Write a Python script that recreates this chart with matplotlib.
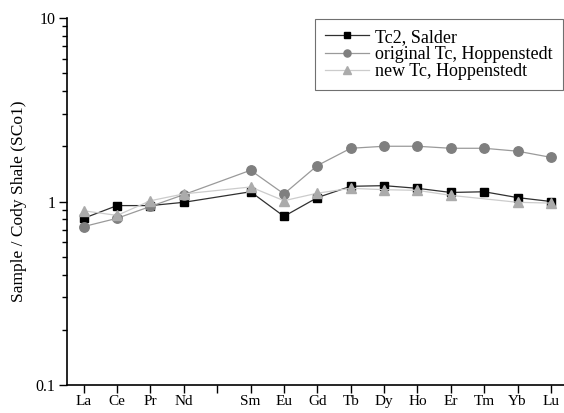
import numpy as np
import matplotlib.pyplot as plt
from matplotlib.ticker import LogLocator, FixedLocator, FuncFormatter, NullFormatter

plt.rcParams['font.family'] = ['Liberation Serif', 'DejaVu Serif']

elements = ["La", "Ce", "Pr", "Nd", "", "Sm", "Eu", "Gd", "Tb", "Dy", "Ho", "Er", "Tm", "Yb", "Lu"]
tc2_salder = [0.81, 0.95, 0.95, 0.99, np.nan, 1.13, 0.83, 1.05, 1.21, 1.22, 1.18, 1.12, 1.13, 1.05, 1.00]
orig_tc = [0.73, 0.81, 0.94, 1.09, np.nan, 1.48, 1.10, 1.57, 1.95, 2.00, 2.00, 1.95, 1.95, 1.88, 1.74]
new_tc = [0.89, 0.84, 1.01, 1.10, np.nan, 1.20, 1.01, 1.11, 1.18, 1.16, 1.15, 1.08, np.nan, 0.99, 0.98]

x = np.arange(1, len(elements) + 1)

fig = plt.figure(figsize=(5.64, 4.13), dpi=100)
ax = fig.add_axes([0.1188, 0.0678, 0.8812, 0.8886])

def draw(vals, **kw):
    v = np.array(vals)
    m = ~np.isnan(v)
    ax.plot(x[m], v[m], **kw)

draw(tc2_salder, color="#303030", lw=0.9, marker="s", ms=5.5, mfc="black", mec="black",
     label="Tc2, Salder", zorder=3)
draw(orig_tc, color="#9a9a9a", lw=0.9, marker="o", ms=6.8, mfc="#7f7f7f", mec="#7f7f7f",
     label="original Tc, Hoppenstedt", zorder=4)
draw(new_tc, color="#cccccc", lw=0.9, marker="^", ms=7, mfc="#ababab", mec="#ababab",
     label="new Tc, Hoppenstedt", zorder=5)

ax.set_yscale("log")
ax.set_ylim(0.1, 10)
ax.set_xlim(0.5, 15.39)
ax.yaxis.set_major_locator(FixedLocator([0.1, 1, 10]))
ax.yaxis.set_major_formatter(FuncFormatter(lambda v, p: "%g" % v))
ax.yaxis.set_minor_locator(LogLocator(base=10, subs=np.arange(2, 10)))
ax.yaxis.set_minor_formatter(NullFormatter())
ax.set_xticks(x)
ax.set_xticklabels(elements)

ax.spines["top"].set_visible(False)
ax.spines["right"].set_visible(False)
ax.spines["left"].set_linewidth(1.2)
ax.spines["bottom"].set_linewidth(1.2)
ax.tick_params(which="major", direction="out", length=5.5, width=1, labelsize=11.5, pad=3)
ax.tick_params(axis="x", which="major", labelsize=11, pad=2)
ax.tick_params(which="minor", direction="out", length=3.5, width=1)

ax.set_ylabel("Sample / Cody Shale (SCo1)", fontsize=12.5, labelpad=6)

leg = ax.legend(loc="upper right", bbox_to_anchor=(0.997, 0.998), borderaxespad=0,
                fancybox=False, framealpha=1, edgecolor="#707070", fontsize=13,
                handlelength=2.4, labelspacing=0.02, borderpad=0.55, markerscale=0.75,
                handletextpad=0.35)
leg.get_frame().set_linewidth(0.8)

fig.savefig("out.png", dpi=100)
